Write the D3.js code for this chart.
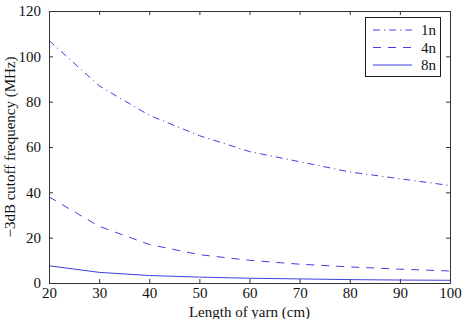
<!DOCTYPE html>
<html><head><meta charset="utf-8">
<script src="https://cdn.jsdelivr.net/npm/d3@7"></script>
<style>body{margin:0;background:#fff}svg{display:block}</style>
</head><body>
<script>
const lengths = [20, 30, 40, 50, 60, 70, 80, 90, 100];
const series1n = [107, 87, 74, 65, 58, 53.5, 49, 46, 43];
const series4n = [38, 25, 17, 12.5, 10, 8.3, 7.1, 6.1, 5.3];
const series8n = [7.6, 4.7, 3.3, 2.6, 2.1, 1.8, 1.5, 1.3, 1.2];
const seriesNames = ["1n", "4n", "8n"];
const xTicks = [20, 30, 40, 50, 60, 70, 80, 90, 100];
const yTicks = [0, 20, 40, 60, 80, 100, 120];

const FONT = "Liberation Serif, Times New Roman, Times, serif";
const fs = 15;
const W = 462, H = 319;
const m = {l: 49, r: 12, t: 11, b: 36};
const svg = d3.select("body").append("svg").attr("width", W).attr("height", H);
const x = d3.scaleLinear().domain([20, 100]).range([m.l, W - m.r]);
const y = d3.scaleLinear().domain([0, 120]).range([H - m.b, m.t]);

const color = "#4040e0";
const dashes = ["7,4,1.2,4", "8,7", null];
const data = [series1n, series4n, series8n];
const line = d3.line().x((d, i) => x(lengths[i])).y(d => y(d));

data.forEach((s, k) => {
  svg.append("path").datum(s).attr("d", line).attr("fill", "none")
    .attr("stroke", color).attr("stroke-width", 1)
    .attr("stroke-dasharray", dashes[k]);
});

const axColor = "#333";
const gx = svg.append("g").attr("transform", `translate(0,${H - m.b})`)
  .call(d3.axisBottom(x).tickValues(xTicks).tickSizeInner(-4).tickSizeOuter(0).tickPadding(4));
const gxt = svg.append("g").attr("transform", `translate(0,${m.t})`)
  .call(d3.axisTop(x).tickValues(xTicks).tickSizeInner(-4).tickSizeOuter(0).tickFormat(""));
const gy = svg.append("g").attr("transform", `translate(${m.l},0)`)
  .call(d3.axisLeft(y).tickValues(yTicks).tickSizeInner(-4).tickSizeOuter(0).tickPadding(8));
const gyr = svg.append("g").attr("transform", `translate(${W - m.r},0)`)
  .call(d3.axisRight(y).tickValues(yTicks).tickSizeInner(-4).tickSizeOuter(0).tickFormat(""));
[gx, gxt, gy, gyr].forEach(g => {
  g.attr("font-family", FONT).attr("font-size", fs);
  g.select(".domain").attr("stroke", axColor).attr("stroke-width", 1);
  g.selectAll(".tick line").attr("stroke", axColor);
  g.selectAll("text").attr("fill", "#111");
});

svg.append("text").attr("x", (m.l + W - m.r) / 2).attr("y", 317).attr("text-anchor", "middle")
  .attr("font-family", FONT).attr("font-size", fs).attr("fill", "#111").text("Length of yarn (cm)");
svg.append("text").attr("transform", `translate(15,${(m.t + H - m.b) / 2}) rotate(-90)`)
  .attr("text-anchor", "middle").attr("font-family", FONT).attr("font-size", fs).attr("fill", "#111")
  .text("\u22123dB cutoff frequency (MHz)");

// legend
const lg = svg.append("g");
lg.append("rect").attr("x", 365.5).attr("y", 17.5).attr("width", 75).attr("height", 59)
  .attr("fill", "#fff").attr("stroke", "#222").attr("stroke-width", 1);
seriesNames.forEach((n, k) => {
  const yy = 30 + k * 17.5;
  lg.append("line").attr("x1", 373).attr("x2", 412).attr("y1", yy).attr("y2", yy)
    .attr("stroke", color).attr("stroke-width", 1).attr("stroke-dasharray", dashes[k]);
  lg.append("text").attr("x", 421).attr("y", yy + 5).attr("font-family", FONT).attr("font-size", fs)
    .attr("fill", "#111").text(n);
});
</script>
</body></html>
